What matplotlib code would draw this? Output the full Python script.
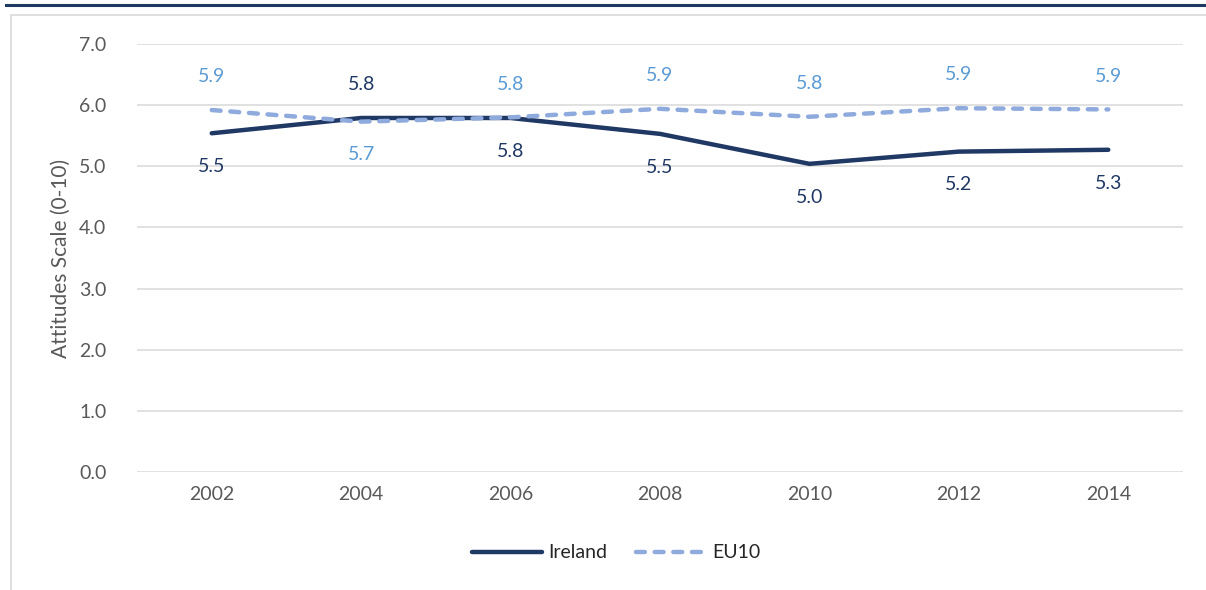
import numpy as np
import matplotlib.pyplot as plt
from matplotlib.lines import Line2D
from matplotlib.patches import Rectangle

plt.rcParams['font.family'] = ['Lato', 'DejaVu Sans']

years = ['2002', '2004', '2006', '2008', '2010', '2012', '2014']
ireland = [5.54, 5.79, 5.79, 5.53, 5.04, 5.24, 5.27]
eu10 = [5.92, 5.73, 5.80, 5.94, 5.81, 5.95, 5.93]
ireland_lbl = ['5.5', '5.8', '5.8', '5.5', '5.0', '5.2', '5.3']
eu10_lbl = ['5.9', '5.7', '5.8', '5.9', '5.8', '5.9', '5.9']
# label above (+1) or below (-1) the point
ireland_side = [-1, 1, -1, -1, -1, -1, -1]
eu10_side = [1, -1, 1, 1, 1, 1, 1]

navy = '#203864'
light = '#8faadc'
lbl_blue = '#5b9bd5'
tick_col = '#595959'

fig = plt.figure(figsize=(12.06, 5.9), dpi=100)

# frame decorations
fig.add_artist(Line2D([6/1206, 1.0], [1-5/590, 1-5/590], color=navy, lw=2.2,
                      transform=fig.transFigure))
fig.add_artist(Rectangle((11/1206, -0.05), 1.0, 1-15/590+0.05, fill=False,
                         edgecolor='#d9d9d9', lw=1.2, transform=fig.transFigure))

ax = fig.add_axes([137/1206, 1-472/590, (1183-137)/1206, (472-44)/590])
x = np.arange(len(years))

ax.plot(x, ireland, color=navy, lw=3.2, solid_capstyle='round', label='Ireland', zorder=3)
ax.plot(x, eu10, color=light, lw=3.2, dashes=(2.0, 2.2), dash_capstyle='round',
        label='EU10', zorder=3)

for i in x:
    ax.annotate(ireland_lbl[i], (i, ireland[i]), xytext=(0, 24*ireland_side[i]),
                textcoords='offset points', ha='center', va='center',
                color=navy, fontsize=14)
    ax.annotate(eu10_lbl[i], (i, eu10[i]), xytext=(0, 24*eu10_side[i]),
                textcoords='offset points', ha='center', va='center',
                color=lbl_blue, fontsize=14)

ax.set_xlim(-0.5, len(years) - 0.5)
ax.set_ylim(0, 7)
ax.set_yticks(np.arange(0, 7.5, 1.0))
ax.set_yticklabels([f'{v:.1f}' for v in np.arange(0, 7.5, 1.0)])
ax.set_xticks(x)
ax.set_xticklabels(years)
ax.tick_params(axis='both', length=0, labelsize=14, labelcolor=tick_col)
ax.tick_params(axis='y', pad=22)
ax.tick_params(axis='x', pad=10)
ax.grid(axis='y', color='#d9d9d9', lw=1.1)
ax.set_axisbelow(True)
for s in ax.spines.values():
    s.set_visible(False)
ax.set_ylabel('Attitudes Scale (0-10)', fontsize=15, color=tick_col, labelpad=6)

leg = fig.legend(*ax.get_legend_handles_labels(), loc='center',
                 bbox_to_anchor=(616/1206, 1-553/590), ncol=2, frameon=False,
                 fontsize=14, handlelength=3.6, columnspacing=1.5, handletextpad=0.3)
for t in leg.get_texts():
    t.set_color('#262626')

fig.savefig('out.png', dpi=100)
